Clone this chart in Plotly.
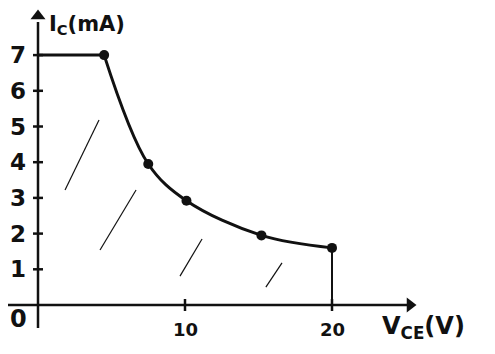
import plotly.graph_objects as go

# Data
vce_pts = [4.5, 7.5, 10.1, 15.2, 20.0]
ic_pts = [7.0, 3.95, 2.92, 1.95, 1.6]
ic_limit_x = [0, 4.5]
ic_limit_y = [7, 7]
vce_limit_x = [20, 20]
vce_limit_y = [1.6, 0]
y_ticks = [1, 2, 3, 4, 5, 6, 7]
x_ticks = [10, 20]
x_tick_labels = ["10", "20"]
hatch_x0 = [1.84, 4.22, 9.66, 15.5]
hatch_y0 = [3.22, 1.54, 0.81, 0.50]
hatch_x1 = [4.15, 6.67, 11.16, 16.6]
hatch_y1 = [5.18, 3.22, 1.85, 1.18]

# page body margin (8px) is compensated by a slightly smaller figure
W, H = 487, 346
px_per_x = 14.7
px_per_y = 35.7
ox, oy = 30, 297
xr = [(0 - ox) / px_per_x, (W - ox) / px_per_x]
yr = [(oy - H) / px_per_y, (oy - 0) / px_per_y]

FONT = "DejaVu Sans"
ink = "#111111"


def fx(px):
    return (px - ox) / px_per_x


def fy(py):
    return (oy - py) / px_per_y


fig = go.Figure()

# hatch strokes
for a, b, c, d in zip(hatch_x0, hatch_y0, hatch_x1, hatch_y1):
    fig.add_trace(go.Scatter(x=[a, c], y=[b, d], mode="lines",
                             line=dict(color=ink, width=1.2), hoverinfo="skip"))

# boundary lines
fig.add_trace(go.Scatter(x=ic_limit_x, y=ic_limit_y, mode="lines",
                         line=dict(color=ink, width=3), hoverinfo="skip"))
fig.add_trace(go.Scatter(x=vce_limit_x, y=vce_limit_y, mode="lines",
                         line=dict(color=ink, width=2), hoverinfo="skip"))
fig.add_trace(go.Scatter(x=vce_pts, y=ic_pts, mode="lines+markers",
                         line=dict(color=ink, width=3, shape="spline", smoothing=1.0),
                         marker=dict(color=ink, size=10)))

# axes
fig.add_trace(go.Scatter(x=[fx(0), fx(400)], y=[0, 0], mode="lines",
                         line=dict(color=ink, width=2.5), hoverinfo="skip"))
fig.add_trace(go.Scatter(x=[0, 0], y=[fy(320), fy(14)], mode="lines",
                         line=dict(color=ink, width=2.5), hoverinfo="skip"))
# arrowheads
fig.add_trace(go.Scatter(x=[fx(402)], y=[0], mode="markers",
                         marker=dict(symbol="triangle-right", size=13, color=ink), hoverinfo="skip"))
fig.add_trace(go.Scatter(x=[0], y=[fy(8)], mode="markers",
                         marker=dict(symbol="triangle-up", size=13, color=ink), hoverinfo="skip"))

shapes = []
annotations = []

# ticks
for t in y_ticks:
    shapes.append(dict(type="line", x0=fx(ox - 5), x1=fx(ox + 5), y0=t, y1=t,
                       line=dict(color=ink, width=2.5)))
    annotations.append(dict(x=fx(ox - 20), y=t, text="<b>%d</b>" % t, showarrow=False,
                            font=dict(family=FONT, size=23, color=ink), xanchor="center", yanchor="middle"))
for t, lab in zip(x_ticks, x_tick_labels):
    shapes.append(dict(type="line", x0=t, x1=t, y0=fy(oy + 6), y1=fy(oy - 6),
                       line=dict(color=ink, width=2.5)))
    annotations.append(dict(x=t, y=fy(oy + 24), text="<b>%s</b>" % lab, showarrow=False,
                            font=dict(family=FONT, size=18, color=ink), xanchor="center", yanchor="middle"))
annotations.append(dict(x=fx(ox - 20), y=fy(oy + 14), text="<b>0</b>", showarrow=False,
                        font=dict(family=FONT, size=24, color=ink)))
annotations.append(dict(x=fx(ox + 9), y=fy(2), text="<b>I<sub>C</sub>(mA)</b>",
                        showarrow=False, xanchor="left", yanchor="top",
                        font=dict(family=FONT, size=21, color=ink)))
annotations.append(dict(x=fx(372), y=fy(oy + 22), text="<b>V<sub>CE</sub>(V)</b>",
                        showarrow=False, xanchor="left", yanchor="middle",
                        font=dict(family=FONT, size=24, color=ink)))

fig.update_layout(
    width=W, height=H, margin=dict(l=0, r=0, t=0, b=0),
    paper_bgcolor="white", plot_bgcolor="white", showlegend=False,
    xaxis=dict(range=xr, visible=False, fixedrange=True),
    yaxis=dict(range=yr, visible=False, fixedrange=True),
    shapes=shapes, annotations=annotations,
)
fig.write_html("out.html")
